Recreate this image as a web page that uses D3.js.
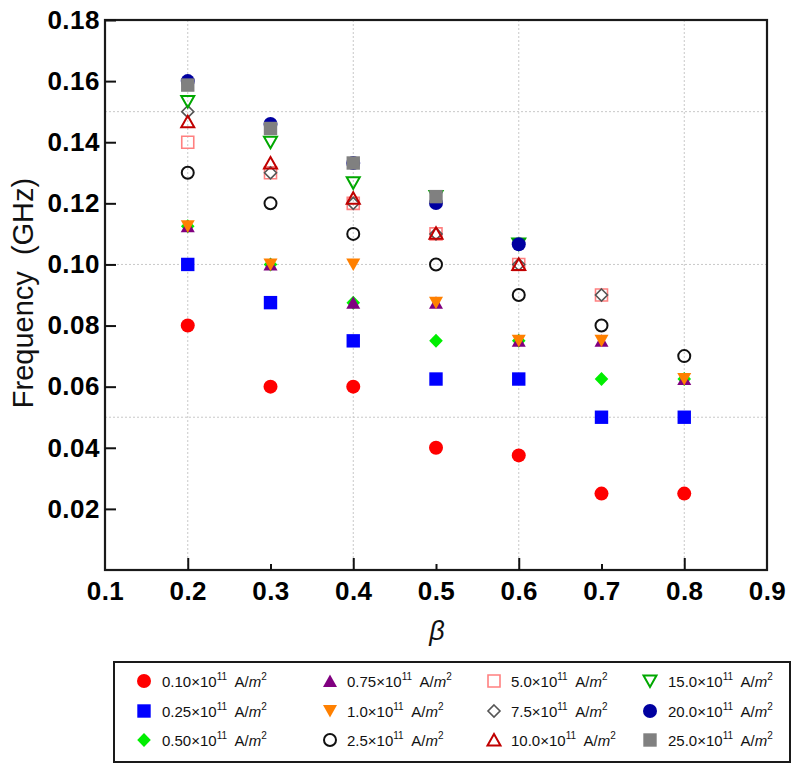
<!DOCTYPE html>
<html><head><meta charset="utf-8">
<script src="https://cdn.jsdelivr.net/npm/d3@7"></script>
<style>
html,body{margin:0;padding:0;background:#fff;}
svg text{font-family:"Liberation Sans",Arial,Helvetica,sans-serif;}
</style></head>
<body><svg id="chart" width="798" height="767"></svg>
<script>
// ---- data ----
const betas = [0.2, 0.3, 0.4, 0.5, 0.6, 0.7, 0.8];
const seriesNames = ["0.10","0.25","0.50","0.75","1.0","2.5","5.0","7.5","10.0","15.0","20.0","25.0"];
const s010 = [0.08, 0.06, 0.06, 0.04, 0.0375, 0.025, 0.025];
const s025 = [0.10, 0.0875, 0.075, 0.0625, 0.0625, 0.05, 0.05];
const s050 = [0.1125, 0.10, 0.0875, 0.075, 0.075, 0.0625, 0.0625];
const s075 = [0.1125, 0.10, 0.0875, 0.0875, 0.075, 0.075, 0.0625];
const s100 = [0.1125, 0.10, 0.10, 0.0875, 0.075, 0.075, 0.0625];
const s250 = [0.13, 0.12, 0.11, 0.10, 0.09, 0.08, 0.07];
const s500 = [0.14, 0.13, 0.12, 0.11, 0.10, 0.09, null];
const s750 = [0.15, 0.13, 0.12, 0.11, 0.10, 0.09, null];
const s1000 = [0.1467, 0.1332, 0.1217, 0.1102, 0.10, null, null];
const s1500 = [0.1533, 0.14, 0.1267, 0.1222, 0.1067, null, null];
const s2000 = [0.16, 0.146, 0.1332, 0.1201, 0.1066, null, null];
const s2500 = [0.1587, 0.1445, 0.1332, 0.1222, null, null, null];
const seriesValues = [s010, s025, s050, s075, s100, s250, s500, s750, s1000, s1500, s2000, s2500];
const xTickLabels = [0.1, 0.2, 0.3, 0.4, 0.5, 0.6, 0.7, 0.8, 0.9];
const xMajorTicks = [0.2, 0.4, 0.6, 0.8];
const xMinorTicks = [0.3, 0.5, 0.7];
const yTickLabels = [0.02, 0.04, 0.06, 0.08, 0.10, 0.12, 0.14, 0.16, 0.18];
const yGrid = [0.05, 0.10, 0.15];
const xGrid = [0.2, 0.4, 0.6, 0.8];

// ---- styles ----
const styles = [
  {shape:"circle", fill:"#ff0000", stroke:"none"},
  {shape:"square", fill:"#0000ff", stroke:"none"},
  {shape:"diamond", fill:"#00ee00", stroke:"none"},
  {shape:"triUp", fill:"#800080", stroke:"none"},
  {shape:"triDown", fill:"#ff8000", stroke:"none"},
  {shape:"circleO", fill:"none", stroke:"#111", sw:2},
  {shape:"squareO", fill:"none", stroke:"#ff8080", sw:1.6},
  {shape:"diamondO", fill:"none", stroke:"#555", sw:1.6},
  {shape:"triUpO", fill:"none", stroke:"#c00000", sw:2},
  {shape:"triDownO", fill:"none", stroke:"#00a800", sw:2},
  {shape:"circle", fill:"#0000a0", stroke:"none"},
  {shape:"square", fill:"#808080", stroke:"none"}
];

function shapePath(shape){
  const p = d3.path();
  switch(shape){
    case "circle": p.arc(0,0,7,0,2*Math.PI); break;
    case "circleO": p.arc(0,0,6,0,2*Math.PI); break;
    case "square": p.rect(-6.7,-6.7,13.4,13.4); break;
    case "squareO": p.rect(-6,-6,12,12); break;
    case "diamond": p.moveTo(0,-7); p.lineTo(6.8,0); p.lineTo(0,7); p.lineTo(-6.8,0); p.closePath(); break;
    case "diamondO": p.moveTo(0,-6); p.lineTo(6,0); p.lineTo(0,6); p.lineTo(-6,0); p.closePath(); break;
    case "triUp": p.moveTo(0,-6.5); p.lineTo(7,6); p.lineTo(-7,6); p.closePath(); break;
    case "triDown": p.moveTo(0,6.5); p.lineTo(7,-6); p.lineTo(-7,-6); p.closePath(); break;
    case "triUpO": p.moveTo(0,-6); p.lineTo(6.5,5.5); p.lineTo(-6.5,5.5); p.closePath(); break;
    case "triDownO": p.moveTo(0,6); p.lineTo(6.5,-5.5); p.lineTo(-6.5,-5.5); p.closePath(); break;
  }
  return p.toString();
}

const svg = d3.select("#chart");
const L = 105, T = 20, R = 767, B = 570;
const x = d3.scaleLinear().domain([0.1, 0.9]).range([L, R]);
const y = d3.scaleLinear().domain([0, 0.18]).range([B, T]);

// gridlines
svg.append("g").selectAll("line").data(yGrid).join("line")
  .attr("x1", L).attr("x2", R).attr("y1", d=>y(d)).attr("y2", d=>y(d))
  .attr("stroke", "#c8c8c8").attr("stroke-width", 1).attr("stroke-dasharray", "2,2");
svg.append("g").selectAll("line").data(xGrid).join("line")
  .attr("y1", T).attr("y2", B).attr("x1", d=>x(d)).attr("x2", d=>x(d))
  .attr("stroke", "#c8c8c8").attr("stroke-width", 1).attr("stroke-dasharray", "2,2");

// points
seriesValues.forEach((vals, i) => {
  const st = styles[i];
  const pts = betas.map((b, j) => ({b, v: vals[j]})).filter(d => d.v != null);
  svg.append("g").selectAll("path").data(pts).join("path")
    .attr("d", shapePath(st.shape))
    .attr("transform", d => `translate(${x(d.b)},${y(d.v)})`)
    .attr("fill", st.fill).attr("stroke", st.stroke).attr("stroke-width", st.sw || 0);
});

// frame
svg.append("rect").attr("x", L).attr("y", T).attr("width", R-L).attr("height", B-T)
  .attr("fill", "none").attr("stroke", "#1a1a1a").attr("stroke-width", 2.2);

// x axis labels
const xLab = svg.append("g").attr("transform", `translate(0,${B})`)
  .call(d3.axisBottom(x).tickValues(xTickLabels).tickSize(0).tickPadding(12).tickFormat(d3.format(".1f")));
xLab.select(".domain").remove();
xLab.selectAll("text").attr("font-size", 26).attr("font-weight", "bold").attr("fill", "#000")
  .attr("font-family", "Liberation Sans, Arial, sans-serif").style("letter-spacing", "0.5px");
// major/minor x ticks
const xMaj = svg.append("g").attr("transform", `translate(0,${B})`)
  .call(d3.axisBottom(x).tickValues(xMajorTicks).tickSize(-12).tickFormat(""));
xMaj.select(".domain").remove();
xMaj.selectAll("line").attr("stroke", "#111").attr("stroke-width", 2);
const xMin = svg.append("g").attr("transform", `translate(0,${B})`)
  .call(d3.axisBottom(x).tickValues(xMinorTicks).tickSize(-6).tickFormat(""));
xMin.select(".domain").remove();
xMin.selectAll("line").attr("stroke", "#111").attr("stroke-width", 2);

// y axis
const yAx = svg.append("g").attr("transform", `translate(${L},0)`)
  .call(d3.axisLeft(y).tickValues(yTickLabels).tickSize(-11).tickPadding(5).tickFormat(d3.format(".2f")));
yAx.select(".domain").remove();
yAx.selectAll("line").attr("stroke", "#111").attr("stroke-width", 2);
yAx.selectAll("text").attr("font-size", 26).attr("font-weight", "bold").attr("fill", "#000")
  .attr("font-family", "Liberation Sans, Arial, sans-serif").style("letter-spacing", "0.5px");

// axis titles
svg.append("text").attr("transform", "translate(33,293) rotate(-90)")
  .attr("text-anchor", "middle").attr("font-size", 29).attr("fill", "#111")
  .style("white-space", "pre").text("Frequency  (GHz)");
svg.append("text").attr("x", 437).attr("y", 640).attr("text-anchor", "middle")
  .attr("font-size", 27).attr("font-style", "italic").attr("fill", "#111").text("β");

// legend
svg.append("rect").attr("x", 114).attr("y", 662).attr("width", 676).attr("height", 100)
  .attr("fill", "#fff").attr("stroke", "#1a1a1a").attr("stroke-width", 2);
const colMarkerX = [144, 330, 494, 650];
const colTextX = [162, 347, 511, 668];
const rowY = [681, 711, 740];
seriesNames.forEach((name, i) => {
  const c = Math.floor(i / 3), r = i % 3;
  const st = styles[i];
  const g = svg.append("g");
  g.append("path").attr("d", shapePath(st.shape))
    .attr("transform", `translate(${colMarkerX[c]},${rowY[r]})`)
    .attr("fill", st.fill).attr("stroke", st.stroke).attr("stroke-width", st.sw || 0);
  const t = g.append("text").attr("x", colTextX[c]).attr("y", rowY[r] + 6)
    .attr("font-size", 15).attr("fill", "#111").style("white-space", "pre");
  t.append("tspan").text(name + "×10");
  t.append("tspan").attr("dy", -7).attr("font-size", 10).text("11");
  t.append("tspan").attr("dy", 7).text("  A/");
  t.append("tspan").attr("font-style", "italic").text("m");
  t.append("tspan").attr("dy", -7).attr("font-size", 10).text("2");
});
</script>
</body></html>
